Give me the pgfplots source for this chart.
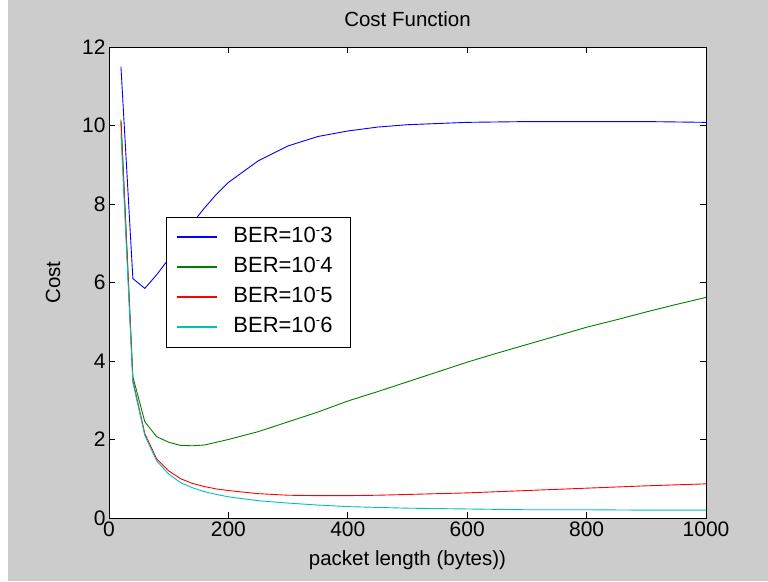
\documentclass[border=0pt]{standalone}
\usepackage{fontspec}
\setmainfont{Liberation Sans}
\usepackage{pgfplots}
\pgfplotsset{compat=1.18}
\definecolor{figgray}{RGB}{204,204,204}
\definecolor{mblue}{RGB}{0,0,255}
\definecolor{mgreen}{RGB}{0,128,0}
\definecolor{mred}{RGB}{255,0,0}
\definecolor{mcyan}{RGB}{0,191,191}
\newcommand{\sm}{\raisebox{8pt}{\fontsize{13}{13}\selectfont -}}
\begin{document}
\begin{tikzpicture}[x=1pt,y=1pt]
\fill[figgray] (0,0) rectangle (768,581);
\fill[white] (0,0) rectangle (8,581);
\begin{axis}[
  at={(109pt,63pt)}, anchor=south west,
  scale only axis, width=597pt, height=471pt,
  xmin=0, xmax=1000, ymin=0, ymax=12,
  xtick={0,200,...,1000}, ytick={0,2,...,12},
  axis background/.style={fill=white},
  axis line style={line width=0.8pt},
  tick align=inside, major tick length=6pt,
  every tick/.style={black, line width=0.8pt},
  /pgf/number format/assume math mode=true,
  /pgf/number format/1000 sep={},
  tick label style={font=\fontsize{21}{24}\selectfont},
  title={Cost Function},
  title style={at={(axis description cs:0.5,1.047)}, anchor=center, font=\fontsize{20.5}{24}\selectfont},
  xlabel={packet length (bytes))},
  xlabel style={at={(axis description cs:0.5,-0.0892)}, anchor=center, font=\fontsize{20.5}{24}\selectfont},
  ylabel={Cost},
  ylabel style={at={(axis description cs:-0.0938,0.5)}, anchor=center, font=\fontsize{20.5}{24}\selectfont},
  legend cell align=left,
  legend style={at={(0.0955,0.639)}, anchor=north west, draw=black, line width=0.8pt,
    font=\fontsize{22}{26}\selectfont, row sep=4pt, column sep=7pt, inner xsep=10pt, inner ysep=7pt,
    nodes={inner xsep=8pt, inner ysep=3pt, text height=15pt, text depth=5pt}},
  legend image code/.code={\draw[#1, line width=2pt] (0pt,0pt) -- (40pt,0pt);},
  every axis plot/.append style={line width=0.9pt},
]
\addplot[draw=mblue] coordinates {
(20,11.5) (40,6.1) (60,5.85) (80,6.2) (100,6.6) (120,7.1) (140,7.52) (160,7.9)
(180,8.25) (200,8.55) (250,9.1) (300,9.48) (350,9.72) (400,9.86) (450,9.96)
(500,10.02) (600,10.08) (700,10.1) (800,10.1) (900,10.1) (1000,10.08)};
\addlegendentry{BER=10\sm3}
\addplot[draw=mgreen] coordinates {
(20,10.15) (40,3.6) (60,2.45) (80,2.07) (100,1.93) (120,1.85) (140,1.84) (160,1.86)
(180,1.93) (200,2.0) (250,2.2) (300,2.45) (350,2.7) (400,2.98) (450,3.22)
(500,3.47) (550,3.72) (600,3.97) (650,4.2) (700,4.42) (750,4.64) (800,4.86)
(850,5.05) (900,5.25) (950,5.44) (1000,5.62)};
\addlegendentry{BER=10\sm4}
\addplot[draw=mred] coordinates {
(20,10.1) (40,3.5) (60,2.15) (80,1.5) (100,1.2) (120,1.0) (140,0.88) (160,0.8)
(180,0.74) (200,0.7) (250,0.62) (300,0.58) (350,0.57) (400,0.57) (450,0.58)
(500,0.6) (600,0.64) (700,0.7) (800,0.76) (900,0.82) (1000,0.87)};
\addlegendentry{BER=10\sm5}
\addplot[draw=mcyan] coordinates {
(20,9.8) (40,3.45) (60,2.1) (80,1.45) (100,1.12) (120,0.9) (140,0.77) (160,0.67)
(180,0.6) (200,0.54) (250,0.44) (300,0.38) (350,0.33) (400,0.29) (450,0.27)
(500,0.25) (600,0.23) (700,0.21) (800,0.21) (900,0.2) (1000,0.2)};
\addlegendentry{BER=10\sm6}
\end{axis}
\end{tikzpicture}
\end{document}
